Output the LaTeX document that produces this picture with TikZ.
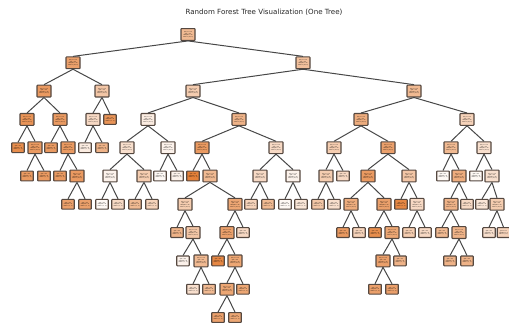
\documentclass[tikz,border=0pt]{standalone}
\usepackage{fontspec}
\setmainfont{DejaVu Sans}
\usepackage{tikz}
\definecolor{treeorange}{HTML}{E58139}
\definecolor{edgegray}{RGB}{85,72,64}
\tikzset{
	split/.style={draw=edgegray,line width=1.05pt,rounded corners=0.6pt,minimum width=14pt,minimum height=11.8pt,inner sep=0.4pt,align=center,font=\fontsize{1.3}{1.55}\selectfont},
	leaf/.style={split,minimum width=12.5pt,minimum height=9.8pt},
	branch/.style={black!72,line width=1pt}
}

\begin{document}
\begin{tikzpicture}[x=1pt,y=-1pt]
	\useasboundingbox (0,0) rectangle (509,326);
	\node[font=\fontsize{7.1}{8.5}\selectfont,text=black!85] (title) at (264,12.7) {Random Forest Tree Visualization (One Tree)};
	% split nodes: name/x/level/shade
	\foreach \nm/\x/\l/\s in {n0x188/188/0/55,
		n1x73/73/1/75,n1x303/303/1/50,
		n2x44/44/2/80,n2x102/102/2/45,n2x193/193/2/40,n2x414/414/2/55,
		n3x27/27/3/85,n3x60/60/3/80,n3x93/93/3/30,n3x148/148/3/15,n3x239/239/3/60,n3x361/361/3/65,n3x467/467/3/35,
		n4x35/35/4/80,n4x68/68/4/80,n4x127/127/4/25,n4x168/168/4/10,n4x202/202/4/80,n4x276/276/4/30,n4x334/334/4/40,n4x388/388/4/75,n4x451/451/4/55,n4x484/484/4/25,
		n5x77/77/5/80,n5x110/110/5/10,n5x144/144/5/40,n5x210/210/5/55,n5x260/260/5/30,n5x293/293/5/10,n5x326/326/5/40,n5x368/368/5/80,n5x409/409/5/45,n5x459/459/5/65,n5x492/492/5/25,
		n6x185/185/6/40,n6x235/235/6/70,n6x351/351/6/65,n6x384/384/6/75,n6x417/417/6/30,n6x451/451/6/60,n6x501/497/6/40,
		n7x193/193/7/45,n7x227/227/7/75,n7x392/392/7/70,n7x459/459/7/60,
		n8x201/201/8/55,n8x235/235/8/70,n8x383/383/8/75,
		n9x227/227/9/70}
		\node[split,fill=treeorange!\s!white] (\nm) at (\x,{34.5+28.3*\l}) {x[0] <= 0.5\\gini = 0.4\\samples = 20\\value = [15, 5]};
	% leaves
	\foreach \nm/\x/\l/\s in {n3x110/110/3/85,
		n4x18/18/4/90,n4x51/51/4/80,n4x85/85/4/15,n4x102/102/4/60,
		n5x27/27/5/80,n5x44/44/5/80,n5x60/60/5/80,n5x160/160/5/5,n5x177/177/5/10,n5x193/193/5/100,n5x343/343/5/30,n5x443/443/5/5,n5x476/476/5/5,
		n6x68/68/6/75,n6x85/85/6/75,n6x102/102/6/5,n6x118/118/6/30,n6x135/135/6/55,n6x152/152/6/35,n6x251/251/6/35,n6x268/268/6/55,n6x285/285/6/5,n6x301/301/6/20,n6x318/318/6/45,n6x334/334/6/25,n6x401/401/6/95,n6x467/467/6/30,n6x484/482/6/20,
		n7x177/177/7/60,n7x243/243/7/30,n7x343/343/7/80,n7x359/359/7/35,n7x375/375/7/90,n7x409/409/7/40,n7x425/425/7/30,n7x442/442/7/55,n7x492/489/7/25,n7x508/503.5/7/35,
		n8x183/183/8/10,n8x218/218/8/95,n8x400/400/8/60,n8x450/450/8/60,n8x467/467/8/60,
		n9x193/193/9/25,n9x209/209/9/55,n9x243/243/9/70,n9x375/375/9/75,n9x392/392/9/75,
		n10x218/218/10/75,n10x235/235/10/70}
		\node[leaf,fill=treeorange!\s!white] (\nm) at (\x,{34.5+28.3*\l}) {gini = 0.2\\samples = 8\\value = [7, 1]};
	% branches
	\foreach \p/\c in {n0x188/n1x73,n0x188/n1x303,
		n1x73/n2x44,n1x73/n2x102,n1x303/n2x193,n1x303/n2x414,
		n2x44/n3x27,n2x44/n3x60,n2x102/n3x93,n2x102/n3x110,n2x193/n3x148,n2x193/n3x239,n2x414/n3x361,n2x414/n3x467,
		n3x27/n4x18,n3x27/n4x35,n3x60/n4x51,n3x60/n4x68,n3x93/n4x85,n3x93/n4x102,n3x148/n4x127,n3x148/n4x168,
		n3x239/n4x202,n3x239/n4x276,n3x361/n4x334,n3x361/n4x388,n3x467/n4x451,n3x467/n4x484,
		n4x35/n5x27,n4x35/n5x44,n4x68/n5x60,n4x68/n5x77,n4x127/n5x110,n4x127/n5x144,n4x168/n5x160,n4x168/n5x177,
		n4x202/n5x193,n4x202/n5x210,n4x276/n5x260,n4x276/n5x293,n4x334/n5x326,n4x334/n5x343,n4x388/n5x368,n4x388/n5x409,
		n4x451/n5x443,n4x451/n5x459,n4x484/n5x476,n4x484/n5x492,
		n5x77/n6x68,n5x77/n6x85,n5x110/n6x102,n5x110/n6x118,n5x144/n6x135,n5x144/n6x152,n5x210/n6x185,n5x210/n6x235,
		n5x260/n6x251,n5x260/n6x268,n5x293/n6x285,n5x293/n6x301,n5x326/n6x318,n5x326/n6x334,n5x368/n6x351,n5x368/n6x384,
		n5x409/n6x401,n5x409/n6x417,n5x459/n6x451,n5x459/n6x467,n5x492/n6x484,n5x492/n6x501,
		n6x185/n7x177,n6x185/n7x193,n6x235/n7x227,n6x235/n7x243,n6x351/n7x343,n6x351/n7x359,n6x384/n7x375,n6x384/n7x392,
		n6x417/n7x409,n6x417/n7x425,n6x451/n7x442,n6x451/n7x459,n6x501/n7x492,n6x501/n7x508,
		n7x193/n8x183,n7x193/n8x201,n7x227/n8x218,n7x227/n8x235,n7x392/n8x383,n7x392/n8x400,n7x459/n8x450,n7x459/n8x467,
		n8x201/n9x193,n8x201/n9x209,n8x235/n9x227,n8x235/n9x243,n8x383/n9x375,n8x383/n9x392,
		n9x227/n10x218,n9x227/n10x235}
		\draw[branch] (\p.south) -- (\c.north);
\end{tikzpicture}
\end{document}
